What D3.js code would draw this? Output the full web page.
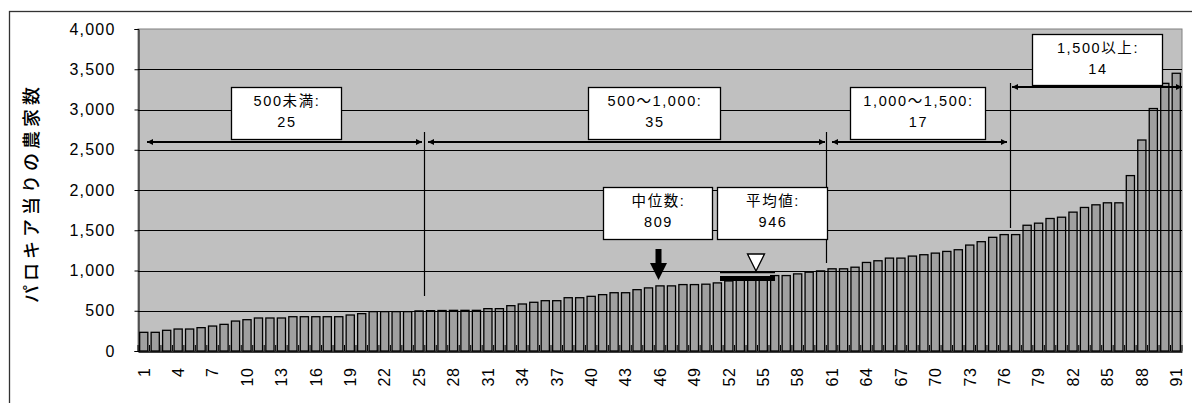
<!DOCTYPE html>
<html>
<head>
<meta charset="utf-8">
<script src="https://cdn.jsdelivr.net/npm/d3@7"></script>
<style>
  html, body { margin: 0; padding: 0; background: #fff; }
  svg { display: block; }
  text { font-family: "Liberation Sans", "Noto Sans CJK JP", sans-serif; fill: #000; }
</style>
</head>
<body>
<svg id="chart" width="1192" height="403"></svg>
<script>
// ---- data ----
const categories = d3.range(1, 92).map(String);
const farms = [
  232, 232, 257, 273, 273, 290, 310, 331, 372, 389,
  410, 410, 410, 426, 426, 426, 426, 426, 447, 464,
  489, 489, 489, 489, 498, 501, 503, 505, 505, 505,
  526, 526, 563, 584, 605, 625, 625, 662, 662, 679,
  700, 724, 724, 762, 784, 809, 809, 825, 825, 830,
  846, 870, 885, 900, 915, 937, 937, 958, 979, 995,
  1021, 1021, 1041, 1100, 1121, 1154, 1154, 1179, 1196, 1216,
  1237, 1258, 1316, 1358, 1412, 1446, 1446, 1562, 1588, 1646,
  1662, 1725, 1783, 1816, 1841, 1841, 2179, 2621, 3012, 3325,
  3450
];
const yTicks = [0, 500, 1000, 1500, 2000, 2500, 3000, 3500, 4000];
const xTickLabels = categories.filter((d, i) => i % 3 === 0);
const yTitle = "パロキア当りの農家数";
const groupLines1 = ["500未満:", "500～1,000:", "1,000～1,500:", "1,500以上:"];
const groupLines2 = ["25", "35", "17", "14"];
const statLines1 = ["中位数:", "平均値:"];
const statLines2 = ["809", "946"];

// ---- layout ----
const svg = d3.select("#chart");
const L = 138, R = 1182, T = 29, B = 351;

const x = d3.scaleBand().domain(categories).range([L, R]).paddingInner(0.2).paddingOuter(0.1);
const y = d3.scaleLinear().domain([0, 4000]).range([B, T]);

// outer frame
svg.append("rect").attr("x", 9.5).attr("y", 11.5).attr("width", 1190).attr("height", 400)
  .attr("fill", "#fff").attr("stroke", "#333").attr("stroke-width", 1.3);

// plot area
svg.append("rect").attr("x", L).attr("y", T).attr("width", R - L).attr("height", B - T)
  .attr("fill", "#c0c0c0").attr("stroke", "#808080").attr("stroke-width", 1);

// bars
svg.append("g").selectAll("rect").data(farms).join("rect")
  .attr("x", (d, i) => x(categories[i]) + 0.5)
  .attr("y", d => y(d))
  .attr("width", x.bandwidth() - 1)
  .attr("height", d => B - y(d))
  .attr("fill", "#a0a0a0").attr("stroke", "#000").attr("stroke-width", 1.3);

// gridlines
svg.append("g").selectAll("line").data(yTicks.filter(v => v > 0 && v < 4000)).join("line")
  .attr("x1", L).attr("x2", R)
  .attr("y1", d => Math.round(y(d)) + 0.5).attr("y2", d => Math.round(y(d)) + 0.5)
  .attr("stroke", "#000").attr("stroke-width", 1);

// inner category ticks
const step = x.step();
svg.append("g").selectAll("line").data(d3.range(0, 92)).join("line")
  .attr("x1", i => x(categories[0]) - x.paddingInner() * step / 2 + i * step)
  .attr("x2", i => x(categories[0]) - x.paddingInner() * step / 2 + i * step)
  .attr("y1", B).attr("y2", B - 6)
  .attr("stroke", "#000").attr("stroke-width", 1);

// y axis
const yAxis = svg.append("g").attr("transform", `translate(${L + 0.5},0)`)
  .call(d3.axisLeft(y).tickValues(yTicks).tickFormat(d3.format(",")).tickSize(4).tickPadding(19));
yAxis.select(".domain").attr("stroke", "#000");
yAxis.selectAll("text").attr("font-size", 16).attr("letter-spacing", "1.2px")
  .style("font-family", '"Liberation Sans", sans-serif');

// x axis
const xAxis = svg.append("g").attr("transform", `translate(0,${B + 0.5})`)
  .call(d3.axisBottom(x).tickValues(xTickLabels).tickSize(0).tickPadding(0));
xAxis.select(".domain").attr("stroke", "#000").attr("stroke-width", 1.5);
xAxis.selectAll("text")
  .attr("font-size", 16)
  .attr("letter-spacing", "0.6px")
  .attr("text-anchor", "end")
  .attr("transform", "rotate(-90)")
  .attr("x", -16).attr("y", 0).attr("dy", "0.36em")
  .style("font-family", '"Liberation Sans", sans-serif');

// y title
svg.append("text")
  .attr("transform", `translate(30,${(T + B) / 2 + 3}) rotate(-90)`)
  .attr("text-anchor", "middle").attr("dominant-baseline", "central")
  .attr("font-size", 18).attr("letter-spacing", "4px").attr("font-weight", 500)
  .style("font-family", '"Noto Sans CJK JP", sans-serif')
  .text(yTitle);

// arrow markers
const defs = svg.append("defs");
defs.append("marker").attr("id", "ah").attr("viewBox", "0 0 10 10")
  .attr("refX", 10).attr("refY", 5).attr("markerWidth", 7).attr("markerHeight", 6)
  .attr("markerUnits", "userSpaceOnUse").attr("orient", "auto-start-reverse")
  .append("path").attr("d", "M0,0 L10,5 L0,10 Z").attr("fill", "#000");

const ann = svg.append("g");

// divider lines
const dividers = [
  { x: 424.5, y1: 132, y2: 296 },
  { x: 826.5, y1: 132, y2: 263 },
  { x: 1010.5, y1: 83, y2: 228 }
];
ann.selectAll("line.div").data(dividers).join("line").attr("class", "div")
  .attr("x1", d => d.x).attr("x2", d => d.x).attr("y1", d => d.y1).attr("y2", d => d.y2)
  .attr("stroke", "#000").attr("stroke-width", 1.2);

// double arrows
const arrows = [
  { x1: 147, x2: 422, y: 142 },
  { x1: 428, x2: 825, y: 142 },
  { x1: 832, x2: 1007, y: 142 },
  { x1: 1012, x2: 1182, y: 87 }
];
ann.selectAll("line.arr").data(arrows).join("line").attr("class", "arr")
  .attr("x1", d => d.x1).attr("x2", d => d.x2).attr("y1", d => d.y).attr("y2", d => d.y)
  .attr("stroke", "#000").attr("stroke-width", 2)
  .attr("marker-start", "url(#ah)").attr("marker-end", "url(#ah)");

// boxes
const boxes = [
  { x0: 231, x1: 341, y0: 87, y1: 139, a: groupLines1[0], b: groupLines2[0] },
  { x0: 588, x1: 720, y0: 87, y1: 139, a: groupLines1[1], b: groupLines2[1] },
  { x0: 850, x1: 985, y0: 87, y1: 139, a: groupLines1[2], b: groupLines2[2] },
  { x0: 1032, x1: 1162, y0: 34, y1: 85, a: groupLines1[3], b: groupLines2[3] },
  { x0: 603, x1: 712, y0: 187, y1: 239, a: statLines1[0], b: statLines2[0] },
  { x0: 717, x1: 827, y0: 187, y1: 239, a: statLines1[1], b: statLines2[1] }
];
const bg = ann.selectAll("g.box").data(boxes).join("g").attr("class", "box");
bg.append("rect")
  .attr("x", d => d.x0 + 0.5).attr("y", d => d.y0 + 0.5)
  .attr("width", d => d.x1 - d.x0).attr("height", d => d.y1 - d.y0)
  .attr("fill", "#fff").attr("stroke", "#000").attr("stroke-width", 1.3);
bg.append("text")
  .attr("x", d => (d.x0 + d.x1) / 2 + 1).attr("y", d => d.y0 + 13.5)
  .attr("text-anchor", "middle").attr("dominant-baseline", "central")
  .attr("font-size", 14.5).attr("letter-spacing", "1.6px")
  .text(d => d.a);
bg.append("text")
  .attr("x", d => (d.x0 + d.x1) / 2 + 1).attr("y", d => d.y0 + 35)
  .attr("text-anchor", "middle").attr("dominant-baseline", "central")
  .attr("font-size", 14.5).attr("letter-spacing", "1.6px")
  .text(d => d.b);

// median arrow (down)
const mx = x(categories[45]) + x.bandwidth() / 2 - 1.5;
ann.append("path")
  .attr("d", `M${mx - 3},249 L${mx + 3},249 L${mx + 3},263 L${mx + 8.5},263 L${mx},280 L${mx - 8.5},263 L${mx - 3},263 Z`)
  .attr("fill", "#000");

// mean marker
ann.append("rect").attr("x", 720).attr("y", 276).attr("width", 55).attr("height", 5).attr("fill", "#000");
ann.append("line").attr("x1", 720).attr("x2", 775).attr("y1", 272.5).attr("y2", 272.5)
  .attr("stroke", "#000").attr("stroke-width", 1.5);
ann.append("path").attr("d", "M747.5,254 L764.5,254 L756,271 Z")
  .attr("fill", "#fff").attr("stroke", "#000").attr("stroke-width", 1.3);
</script>
</body>
</html>
